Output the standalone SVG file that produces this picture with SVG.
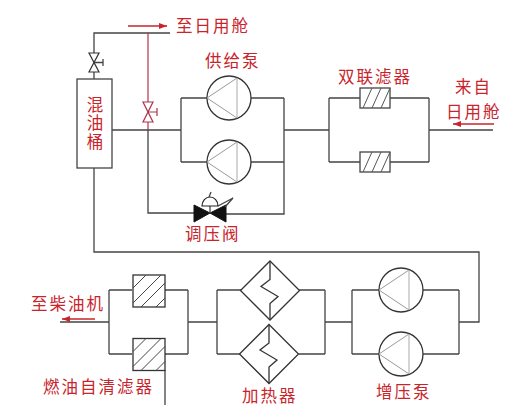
<svg xmlns="http://www.w3.org/2000/svg" width="515" height="415" viewBox="0 0 515 415">
<defs>
<marker id="ar" viewBox="0 0 8 6" refX="8" refY="3" markerWidth="8" markerHeight="6" orient="auto" markerUnits="userSpaceOnUse"><path d="M0 0L8 3L0 6Z" fill="#c8242c"/></marker>
<g id="pump"><circle r="22" fill="#fff" stroke="#333" stroke-width="1.3"/><path d="M-22 0L8 -20M-22 0L8 20" fill="none" stroke="#999" stroke-width="1"/><path d="M8 -20V20" fill="none" stroke="#aaa" stroke-width="1"/></g>
<g id="flt1"><rect x="-15" y="-10" width="30" height="20" fill="#fff" stroke="#444" stroke-width="1.3"/><path d="M-12 10L-3 -10M-3 10L6 -10M6 10L15 -10" fill="none" stroke="#555"/></g>
<g id="flt2"><rect x="-16" y="-16" width="32" height="32" fill="#fff" stroke="#333" stroke-width="1.3"/><path d="M-16 -3L-3 -16M-16 12L12 -16M-8 16L16 -8M7 16L16 7" fill="none" stroke="#444"/></g>
<g id="hx"><path d="M0 -29.500L29.500 0L0 29.500L-29.500 0Z" fill="#fff" stroke="#333" stroke-width="1.3"/><path d="M0 -29.500V-11L-9 -4L8 6L0 13V29.500" fill="none" stroke="#333" stroke-width="1.3"/></g>
</defs>
<style>
.l{fill:none;stroke:#444;stroke-width:1.3}
.r{fill:none;stroke:#b0354a;stroke-width:1.2}
.a{fill:none;stroke:#c8242c;stroke-width:1.5}
.t{font-family:"Noto Sans CJK SC","Noto Sans CJK JP",sans-serif;font-size:16.500px;letter-spacing:2px;fill:#c8242c}
</style>
<rect width="515" height="415" fill="#fff"/>
<g id="connectors">
<path class="l" d="M94 79V33H170"/>
<path class="r" d="M148 33V130"/>
<path class="l" d="M112 130H181M181 98V162M181 98H207M181 162H207M251 98H284M251 162H284M284 98V214H226M284 130H329"/>
<path class="l" d="M148 130V213H194"/>
<path class="l" d="M329 98V162M329 98H360M329 162H360M390 98H429M390 162H429M429 98V162M429 130H493"/>
<path class="l" d="M94 168V252H479V322H459"/>
<path class="l" d="M459 290V354M423 290H459M423 354H459M352 290V354M352 290H379M352 354H379M325 322H352"/>
<path class="l" d="M299 290H325M299 354H325M325 290V354M217 290V354M217 290H241M217 354H240M188 322H217"/>
<path class="l" d="M188 290V354M165 290H188M165 354H188M109 290V354M109 290H132M109 354H132M60 322H109M165 370V405"/>
<path class="a" d="M128 26H167" marker-end="url(#ar)"/>
<path class="a" d="M494 124H453" marker-end="url(#ar)"/>
<path class="a" d="M95 319H62" marker-end="url(#ar)"/>
</g>
<g id="tank"><rect x="77" y="79" width="35" height="89" fill="#fff" stroke="#444" stroke-width="1.3"/><text class="t" x="95" y="96" writing-mode="vertical-rl">混油桶</text></g>
<g id="valve-top"><path d="M89 53H99L89 72H99Z" fill="#fff" stroke="#333" stroke-width="1.2"/><path d="M94 62.500H103M103 59V66" class="l"/></g>
<g id="valve-red"><path d="M143 102H153L143 122H153Z" fill="#fff" stroke="#b0354a" stroke-width="1.2"/><path d="M148 112H157M157 108V116" class="r"/></g>
<g id="pump-1"><use href="#pump" x="229" y="98"/></g>
<g id="pump-2"><use href="#pump" x="229" y="162"/></g>
<g id="filter-1"><use href="#flt1" x="375" y="98"/></g>
<g id="filter-2"><use href="#flt1" x="375" y="162"/></g>
<g id="reg-valve"><path d="M194 205L210 213L194 222ZM226 205L210 213L226 222Z" fill="#111" stroke="#111"/><path d="M210 213V197" class="l"/><path d="M202 206A8 9 0 0 1 218 206Z" fill="#fff" stroke="#222" stroke-width="1.2"/><path d="M218 206L233 198L225 207" class="l"/><path d="M209 197L211 192" class="l"/></g>
<g id="boost-1"><use href="#pump" x="401" y="290"/></g>
<g id="boost-2"><use href="#pump" x="401" y="354"/></g>
<g id="heater-1"><use href="#hx" x="270" y="290.500"/></g>
<g id="heater-2"><use href="#hx" x="269" y="354"/></g>
<g id="self-filter-1"><use href="#flt2" x="149" y="291"/></g>
<g id="self-filter-2"><use href="#flt2" x="149" y="354.500"/></g>
<g id="labels">
<text class="t" x="176" y="32">至日用舱</text>
<text class="t" x="205" y="67">供给泵</text>
<text class="t" x="338" y="83">双联滤器</text>
<text class="t" x="455" y="93">来自</text>
<text class="t" x="446" y="118">日用舱</text>
<text class="t" x="185" y="240">调压阀</text>
<text class="t" x="31" y="310">至柴油机</text>
<text class="t" x="43" y="393">燃油自清滤器</text>
<text class="t" x="242" y="402">加热器</text>
<text class="t" x="376" y="398">增压泵</text>
</g>
</svg>
